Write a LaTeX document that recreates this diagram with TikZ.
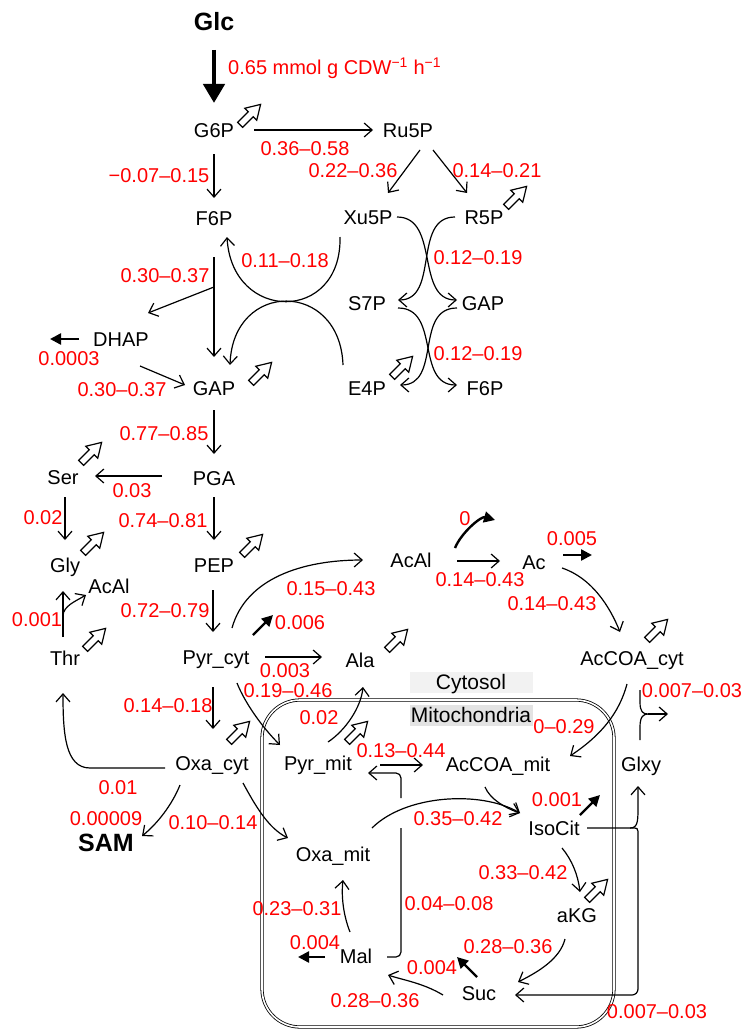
\documentclass[tikz,border=0pt]{standalone}
\usepackage{fontspec}
\setmainfont{Liberation Sans}
\usetikzlibrary{positioning,arrows.meta,calc}

\begin{document}
\begin{tikzpicture}[
    x=1pt, y=-1pt,
    met/.style={inner sep=0pt, text height=14pt, text depth=0pt, font=\fontsize{20}{24}\selectfont},
    big/.style={met, text height=18pt, font=\fontsize{25}{30}\selectfont\bfseries},
    flux/.style={met, text=red},
    comp/.style={met, text height=15pt, font=\fontsize{21}{25}\selectfont, minimum width=123pt, minimum height=21pt},
    arr/.style={-{Straight Barb[length=8pt,width=14pt]}, line width=1.2pt},
    exch/.style={-{Triangle[length=11pt,width=11pt]}, line width=2.4pt},
    upt/.style={-{Triangle[length=19pt,width=21pt]}, line width=4.5pt},
    outflow/.pic={\draw[line width=1.2pt, fill=white] (-14,-3.5) -- (1,-3.5) -- (1,-8.5) -- (15,0) -- (1,8.5) -- (1,3.5) -- (-14,3.5) -- cycle;}
]
\useasboundingbox (0,0) rectangle (745,1030);

\draw[double, double distance=1.6pt, line width=0.8pt, rounded corners=38pt] (262,700) rectangle (614,1027);
\node[comp, fill=gray!10] (cyto) at (471,682) {Cytosol};
\node[comp, fill=gray!22, below=12pt of cyto] (mito) {Mitochondria};

\node[big] (Glc) at (214,22) {Glc};
\node[met] (G6P) at (214,131) {G6P};
\node[met] (Ru5P) at (408,131) {Ru5P};
\node[met] (F6P) at (214,218) {F6P};
\node[met] (Xu5P) at (368,217) {Xu5P};
\node[met] (R5P) at (484,217) {R5P};
\node[met] (S7P) at (367,303) {S7P};
\node[met] (GAPb) at (483,303) {GAP};
\node[met] (E4P) at (367,388) {E4P};
\node[met] (F6Pb) at (485,388) {F6P};
\node[met] (DHAP) at (121,339) {DHAP};
\node[met] (GAP) at (214,388) {GAP};
\node[met] (PGA) at (214,478) {PGA};
\node[met] (Ser) at (63,477) {Ser};
\node[met] (Gly) at (65,565) {Gly};
\node[met] (PEP) at (214,565) {PEP};
\node[met] (AcAlT) at (109,586) {AcAl};
\node[met] (Thr) at (65,658) {Thr};
\node[met] (PyrC) at (216,657) {Pyr\_cyt};
\node[met] (OxaC) at (212,763) {Oxa\_cyt};
\node[big] (SAM) at (106,842) {SAM};
\node[met] (Ala) at (360,660) {Ala};
\node[met] (AcAl) at (411,560) {AcAl};
\node[met] (Ac) at (534,562) {Ac};
\node[met] (AcCoAC) at (632,658) {AcCOA\_cyt};
\node[met] (PyrM) at (318,763) {Pyr\_mit};
\node[met] (AcCoAM) at (498,764) {AcCOA\_mit};
\node[met] (Glxy) at (641,764) {Glxy};
\node[met] (OxaM) at (333,854) {Oxa\_mit};
\node[met] (IsoCit) at (554,828) {IsoCit};
\node[met] (aKG) at (577,915) {aKG};
\node[met] (Mal) at (356,956) {Mal};
\node[met] (Suc) at (479,993) {Suc};

\node[flux, anchor=west] (vUpt) at (228,68) {0.65 mmol g CDW\textsuperscript{−1} h\textsuperscript{−1}};
\node[flux] (vZwf) at (305,148) {0.36–0.58};
\node[flux] (vPgi) at (159,175) {−0.07–0.15};
\node[flux] (vRpe) at (353,170) {0.22–0.36};
\node[flux] (vRpi) at (497,170) {0.14–0.21};
\node[flux] (vTkt2) at (285,260) {0.11–0.18};
\node[flux] (vTkt1) at (478,257) {0.12–0.19};
\node[flux] (vPfk) at (165,275) {0.30–0.37};
\node[flux] (vTal) at (478,353) {0.12–0.19};
\node[flux] (vGly3) at (69,358) {0.0003};
\node[flux] (vTpi) at (122,389) {0.30–0.37};
\node[flux] (vGapdh) at (164,433) {0.77–0.85};
\node[flux] (vSer) at (132,490) {0.03};
\node[flux] (vShmt) at (43,517) {0.02};
\node[flux] (vEno) at (163,520) {0.74–0.81};
\node[flux] (vAldOut) at (465,518) {0};
\node[flux] (vAcOut) at (572,538) {0.005};
\node[flux] (vAld) at (480,579) {0.14–0.43};
\node[flux] (vPdc) at (331,588) {0.15–0.43};
\node[flux] (vAcs) at (552,603) {0.14–0.43};
\node[flux] (vPyk) at (165,610) {0.72–0.79};
\node[flux] (vThr) at (37,619) {0.001};
\node[flux] (vPyrOut) at (300,622) {0.006};
\node[flux] (vAla) at (285,670) {0.003};
\node[flux] (vPyrT) at (288,690) {0.19–0.46};
\node[flux] (vGlxyOut) at (692,690) {0.007–0.03};
\node[flux] (vPyc) at (168,705) {0.14–0.18};
\node[flux] (vAlaM) at (319,717) {0.02};
\node[flux] (vAcCoAT) at (564,726) {0–0.29};
\node[flux] (vPdh) at (401,750) {0.13–0.44};
\node[flux] (vOxaThr) at (118,787) {0.01};
\node[flux] (vIsoOut) at (557,799) {0.001};
\node[flux] (vCit) at (458,818) {0.35–0.42};
\node[flux] (vSam) at (106,818) {0.00009};
\node[flux] (vOxaT) at (213,822) {0.10–0.14};
\node[flux] (vIdh) at (523,872) {0.33–0.42};
\node[flux] (vMae) at (449,903) {0.04–0.08};
\node[flux] (vMdh) at (297,908) {0.23–0.31};
\node[flux] (vMalOut) at (315,942) {0.004};
\node[flux] (vKgd) at (508,946) {0.28–0.36};
\node[flux] (vSucOut) at (432,967) {0.004};
\node[flux] (vSdh) at (375,1000) {0.28–0.36};
\node[flux] (vIcl) at (657,1011) {0.007–0.03};

\draw[upt] ($(Glc)+(0,28)$) -- ($(G6P)+(0,-28)$);
\draw[arr] ($(G6P)+(40,-1)$) -- ($(Ru5P)+(-35,-1)$);
\draw[arr] ($(G6P)+(0,23)$) -- ($(F6P)+(0,-20)$);
\draw[arr] ($(Ru5P)+(12,19)$) -- ($(Xu5P)+(20,-24)$);
\draw[arr] ($(Ru5P)+(25,19)$) -- ($(R5P)+(-17,-24)$);
\draw[arr] ($(F6P)+(0,39)$) -- ($(GAP)+(0,-31)$);
\draw[arr] ($(F6P)+(0,69)$) -- ($(DHAP)+(27,-26)$);
\draw[exch] ($(DHAP)+(-42,0)$) -- ++(-29,0);
\draw[arr] ($(DHAP)+(19,27)$) -- ($(GAP)+(-29,-3)$);
\draw[arr] ($(GAP)+(0,22)$) -- ($(PGA)+(0,-24)$);
\draw[arr] ($(PGA)+(-52,-2)$) -- ($(Ser)+(32,-1)$);
\draw[arr] ($(Ser)+(2,20)$) -- ($(Gly)+(0,-25)$);
\draw[arr] ($(PGA)+(0,19)$) -- ($(PEP)+(0,-25)$);
\draw[arr] ($(PEP)+(-1,25)$) -- ($(PyrC)+(-3,-25)$);
\draw[arr] ($(PyrC)+(-3,30)$) -- ($(OxaC)+(1,-34)$);

\draw[arr] ($(Xu5P)+(-28,20)$) .. controls +(2,86) and +(5,86) .. ($(F6P)+(13,19)$);
\draw[arr] ($(E4P)+(-24,-23)$) .. controls +(-3,-85) and +(3,-85) .. ($(GAP)+(16,-23)$);
\draw[arr] ($(Xu5P)+(29,0)$) .. controls +(43,0) and +(-42,0) .. ($(GAPb)+(-26,-3)$);
\draw[arr] ($(R5P)+(-29,0)$) .. controls +(-43,0) and +(42,0) .. ($(S7P)+(31,-3)$);
\draw[arr] ($(S7P)+(31,5)$) .. controls +(43,0) and +(-42,0) .. ($(F6Pb)+(-28,-3)$);
\draw[arr] ($(GAPb)+(-26,5)$) .. controls +(-43,0) and +(42,0) .. ($(E4P)+(33,-3)$);

\draw[arr] ($(Thr)+(-2,-21)$) -- ($(Gly)+(-2,26)$);
\draw[arr] ($(Thr)+(-2,-42)$) .. controls +(0,-10) and +(-10,6) .. ($(AcAlT)+(-23,9)$);
\draw[arr] ($(OxaC)+(-47,5)$) -- ++(-75,0) .. controls +(-25,0) and +(0,40) .. ($(Thr)+(-2,35)$);
\draw[arr] ($(OxaC)+(-32,22)$) .. controls +(-8,20) and +(15,-12) .. ($(SAM)+(36,-6)$);
\draw[arr] ($(OxaC)+(31,20)$) .. controls +(12,22) and +(-20,-10) .. ($(OxaM)+(-45,-16)$);

\draw[arr] ($(PyrC)+(16,-29)$) .. controls +(14,-50) and +(-60,0) .. ($(AcAl)+(-48,0)$);
\draw[exch] ($(PyrC)+(37,-22)$) -- ++(20,-20);
\draw[arr] ($(PyrC)+(49,0)$) -- ($(Ala)+(-38,-3)$);
\draw[arr] ($(PyrC)+(21,26)$) .. controls +(8,20) and +(-18,-18) .. ($(PyrM)+(-38,-18)$);
\draw[arr] ($(PyrM)+(10,-21)$) .. controls +(18,-12) and +(-2,20) .. ($(Ala)+(3,27)$);
\draw[arr] ($(PyrM)+(62,2)$) -- ($(AcCoAM)+(-75,1)$);
\draw[line width=1.2pt, rounded corners=5pt] ($(Mal)+(31,1)$) -| ($(PyrM)+(83,65)$);
\draw[arr, rounded corners=5pt] ($(PyrM)+(83,35)$) |- ($(PyrM)+(50,10)$);

\draw[arr] ($(AcAl)+(46,1)$) -- ($(Ac)+(-34,-1)$);
\draw[exch] ($(AcAl)+(44,-12)$) .. controls +(6,-15) and +(-14,-4) .. +(40,-28);
\draw[exch] ($(Ac)+(29,-7)$) -- ++(29,0);
\draw[arr] ($(Ac)+(28,6)$) .. controls +(30,10) and +(-10,-25) .. ($(AcCoAC)+(-12,-26)$);
\draw[arr] ($(AcCoAC)+(-5,26)$) .. controls +(-8,30) and +(30,-20) .. ($(AcCoAM)+(72,-8)$);
\draw[line width=1.2pt] ($(Glxy)+(-1,-74)$) -- ++(0,12) .. controls +(0,10) and +(-5,0) .. ($(Glxy)+(7,-50)$) .. controls +(-5,0) and +(0,-10) .. ($(Glxy)+(-1,-37)$) -- ($(Glxy)+(-1,-24)$);
\draw[arr] ($(Glxy)+(7,-50)$) -- ++(20,0);

\draw[arr] ($(AcCoAM)+(-13,23)$) .. controls +(5,12) and +(-15,-5) .. ($(IsoCit)+(-34,-15)$);
\draw[arr] ($(OxaM)+(39,-26)$) .. controls +(33,-33) and +(-40,-23) .. ($(IsoCit)+(-34,-15)$);
\draw[exch] ($(IsoCit)+(26,-13)$) -- ++(20,-20);
\draw[arr] ($(IsoCit)+(8,20)$) .. controls +(10,12) and +(-2,-17) .. ($(aKG)+(3,-23)$);
\draw[arr] ($(IsoCit)+(33,0)$) -- ++(43,0) .. controls +(8,0) and +(0,15) .. ($(Glxy)+(-3,42)$) -- ($(Glxy)+(-3,22)$);
\draw[arr, rounded corners=6pt] ($(IsoCit)+(76,0)$) .. controls +(8,0) and +(0,-15) .. ($(Glxy)+(-3,78)$) |- ($(Suc)+(36,2)$);
\draw[arr] ($(aKG)+(-12,24)$) .. controls +(-5,20) and +(20,-10) .. ($(Suc)+(39,-11)$);
\draw[exch] ($(Suc)+(-2,-16)$) -- ++(-20,-20);
\draw[arr] ($(Suc)+(-36,2)$) .. controls +(-20,-12) and +(15,5) .. ($(Mal)+(32,19)$);
\draw[arr] ($(Mal)+(-6,-24)$) .. controls +(-6,-15) and +(-2,18) .. ($(OxaM)+(10,26)$);
\draw[exch] ($(Mal)+(-31,1)$) -- ++(-27,0);

\foreach \p in {(250,115),(516,197),(402,367),(261,373),(91,453),(93,543),(252,545),(95,639),(239,732),(397,640),(357,732),(657,630),(597,890)}
    \pic[rotate=45] at \p {outflow};

\end{tikzpicture}
\end{document}
